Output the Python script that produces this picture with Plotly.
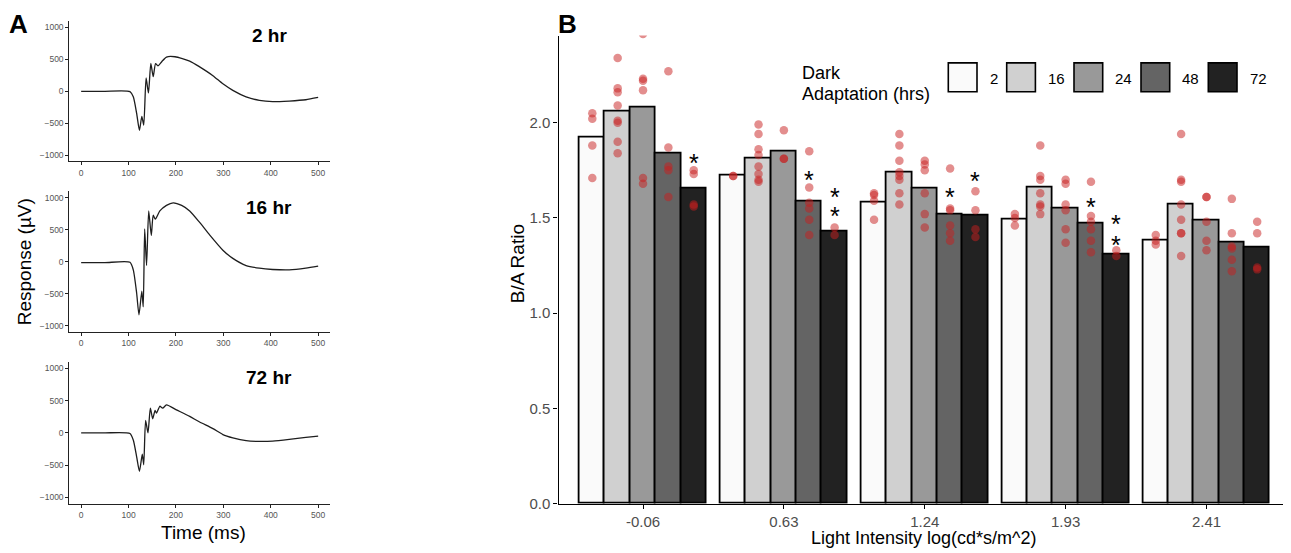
import plotly.graph_objects as go

REF_W, REF_H = 1291, 553
# the page shows the figure 8px in from the left edge, so the layout is
# measured in picture pixels and pulled back by that much horizontally
OFF_X = 8
W, H = REF_W - OFF_X, REF_H
FONT = "Liberation Sans, Arial, sans-serif"

# ---- panel A: ERG traces (time in ms, response in uV)
t_2hr = [0, 50, 103, 110, 117, 123, 128, 132, 137, 142, 147, 152, 157, 162,
         170, 180, 198, 229, 250, 278, 299, 320, 348, 376, 404, 439, 474, 500]
v_2hr = [0, 0, -5, -87, -342, -612, -393, -530, 209, -26, 439, 230, 434, 398,
         464, 536, 541, 474, 383, 245, 117, 15, -87, -143, -163, -153, -133, -97]

t_16hr = [0, 50, 103, 110, 117, 122, 128, 131, 134, 138, 142.5, 148, 152, 156.5,
          166, 180, 194, 212, 229, 250, 271, 299, 320, 348, 376, 404, 439, 474, 500]
v_16hr = [-15, -15, -10, -128, -485, -827, -459, -704, 510, -61, 791, 408, 725, 663,
          791, 878, 918, 878, 791, 612, 418, 179, 51, -61, -102, -122, -128, -102, -71]

t_72hr = [0, 50, 103, 110, 117, 123, 129, 132, 136, 141, 146, 151, 156, 159,
          166, 172, 180, 201, 229, 250, 278, 299, 320, 348, 376, 404, 439, 474, 500]
v_72hr = [0, 0, -10, -112, -367, -597, -332, -495, 194, 0, 383, 219, 347, 306,
          413, 383, 434, 357, 255, 168, 66, -26, -77, -122, -133, -128, -102, -71, -51]

trace_labels = ["2 hr", "16 hr", "72 hr"]

# ---- panel B: B/A ratio by light intensity and dark adaptation
intensity_labels = ["-0.06", "0.63", "1.24", "1.93", "2.41"]
hours = ["2", "16", "24", "48", "72"]
bar_colors = ["#fafafa", "#d0d0d0", "#999999", "#646464", "#222222"]

ratio_2 = [1.92, 1.72, 1.58, 1.49, 1.38]
ratio_16 = [2.06, 1.81, 1.74, 1.66, 1.57]
ratio_24 = [2.08, 1.85, 1.655, 1.55, 1.485]
ratio_48 = [1.84, 1.585, 1.52, 1.47, 1.37]
ratio_72 = [1.655, 1.43, 1.51, 1.31, 1.345]

dots_2 = [[2.05, 2.02, 1.88, 1.71], [1.72, 1.72], [1.63, 1.62, 1.59, 1.49],
          [1.52, 1.50, 1.46], [1.41, 1.38, 1.36]]
dots_16 = [[2.34, 2.18, 2.16, 2.09, 2.01, 2.00, 1.90, 1.84],
           [1.99, 1.94, 1.86, 1.83, 1.77, 1.73, 1.70, 1.69],
           [1.94, 1.88, 1.80, 1.74, 1.72, 1.70, 1.63, 1.57],
           [1.88, 1.72, 1.70, 1.63, 1.57, 1.56, 1.52],
           [1.94, 1.70, 1.69, 1.57, 1.49, 1.42, 1.42, 1.30]]
dots_24 = [[2.465, 2.23, 2.22, 2.17, 1.71, 1.68], [1.96, 1.81, 1.81],
           [1.80, 1.78, 1.75, 1.63, 1.52, 1.45], [1.70, 1.68, 1.57, 1.54, 1.44, 1.37],
           [1.61, 1.61, 1.48, 1.38, 1.33]]
dots_48 = [[2.27, 1.87, 1.77, 1.75, 1.61], [1.85, 1.66, 1.58, 1.55, 1.49, 1.41],
           [1.76, 1.55, 1.54, 1.46, 1.42, 1.38], [1.69, 1.51, 1.48, 1.44, 1.38, 1.32],
           [1.60, 1.42, 1.35, 1.34, 1.28, 1.22]]
dots_72 = [[1.75, 1.73, 1.57, 1.56], [1.45, 1.41], [1.64, 1.54, 1.44, 1.40],
           [1.33, 1.30], [1.48, 1.42, 1.24, 1.23]]

star_group = [0, 1, 1, 1, 2, 2, 3, 3, 3]
star_hour = ["72", "48", "72", "72", "48", "72", "48", "72", "72"]
star_y = [1.82, 1.73, 1.64, 1.54, 1.64, 1.725, 1.59, 1.50, 1.39]


def px(x, y):
    """pixel position in the reference picture -> paper coords"""
    return (x - OFF_X) / W, 1 - y / H


def span_x(a, b):
    return [px(a, 0)[0], min(px(b, 0)[0], 1.0)]


def span_y(top, bottom):
    return [px(0, bottom)[1], px(0, top)[1]]


fig = go.Figure()

# panel A
traces = [(t_2hr, v_2hr), (t_16hr, v_16hr), (t_72hr, v_72hr)]
for k, (t, v) in enumerate(traces, start=1):
    fig.add_trace(
        go.Scatter(
            x=t, y=v, mode="lines",
            line=dict(color="#1e1e1e", width=1.3, shape="spline", smoothing=0.6),
            xaxis=f"x{k}", yaxis=f"y{k}", showlegend=False, hoverinfo="skip",
        )
    )

# panel B bars
ratios = [ratio_2, ratio_16, ratio_24, ratio_48, ratio_72]
dots = [dots_2, dots_16, dots_24, dots_48, dots_72]
bar_w = 0.9 / len(hours)
offsets = {h: (j - 2) * bar_w for j, h in enumerate(hours)}

for h, vals, col in zip(hours, ratios, bar_colors):
    fig.add_trace(
        go.Bar(
            x=[i + offsets[h] for i in range(len(intensity_labels))],
            y=vals, width=bar_w, name=h,
            marker=dict(color=col, line=dict(color="black", width=1.8)),
            xaxis="x4", yaxis="y4", showlegend=False,
        )
    )

for h, pts in zip(hours, dots):
    xs, ys = [], []
    for i, grp in enumerate(pts):
        xs += [i + offsets[h]] * len(grp)
        ys += grp
    fig.add_trace(
        go.Scatter(
            x=xs, y=ys, mode="markers",
            marker=dict(size=8.5, color="rgba(200,30,30,0.5)", line=dict(width=0)),
            xaxis="x4", yaxis="y4", showlegend=False,
        )
    )

annotations = []
for g, h, y in zip(star_group, star_hour, star_y):
    annotations.append(dict(
        x=g + offsets[h], y=y, xref="x4", yref="y4", text="*", showarrow=False,
        font=dict(family=FONT, size=25, color="black"), yshift=-6,
    ))

# axes
a_dom_x = span_x(69.3, 330)
a_dom_y = [span_y(13.3, 155.7), span_y(185.8, 329), span_y(359.2, 503)]
small_axis = dict(
    showline=True, linecolor="#222", linewidth=1, ticks="outside", ticklen=3,
    tickcolor="#222", tickfont=dict(family=FONT, size=8.5, color="#555"),
    showgrid=False, zeroline=False,
)
layout_axes = {}
for k in range(1, 4):
    layout_axes[f"xaxis{k}"] = dict(
        small_axis, domain=a_dom_x, range=[-25, 525], anchor=f"y{k}",
        tickvals=[0, 100, 200, 300, 400, 500],
    )
    layout_axes[f"yaxis{k}"] = dict(
        small_axis, domain=a_dom_y[k - 1], range=[-1100, 1100], anchor=f"x{k}",
        tickvals=[-1000, -500, 0, 500, 1000],
    )

big_axis = dict(
    showline=True, linecolor="black", linewidth=1.3, ticks="outside", ticklen=4,
    tickcolor="black", tickfont=dict(family=FONT, size=15, color="#4d4d4d"),
    showgrid=False, zeroline=False,
)
layout_axes["xaxis4"] = dict(
    big_axis, domain=span_x(558.5, 1291), range=[-0.6, 4.6], anchor="y4",
    tickvals=list(range(len(intensity_labels))), ticktext=intensity_labels,
)
layout_axes["yaxis4"] = dict(
    big_axis, domain=span_y(28, 503), range=[0, 2.457], anchor="x4",
    tickvals=[0, 0.5, 1.0, 1.5, 2.0], tickformat=".1f",
)


# text labels
def text(x, y, s, size, bold=False, angle=0, xanchor="center"):
    px_x, px_y = px(x, y)
    annotations.append(dict(
        x=px_x, y=px_y, xref="paper", yref="paper", text=f"<b>{s}</b>" if bold else s,
        showarrow=False, textangle=angle, xanchor=xanchor, yanchor="middle",
        font=dict(family=FONT, size=size, color="black"),
    ))


text(18, 16, "A", 26, bold=True)
text(567, 16, "B", 26, bold=True)
for lbl, ypos in zip(trace_labels, [28, 202, 375]):
    text(269, ypos, lbl, 19, bold=True)
text(24, 258, "Response (µV)", 19, angle=-90)
text(204, 532, "Time (ms)", 19)
text(517, 260, "B/A Ratio", 19, angle=-90)
text(924, 538, "Light Intensity log(cd*s/m^2)", 18)
text(800, 66, "Dark", 18, xanchor="left")
text(800, 87, "Adaptation (hrs)", 18, xanchor="left")

# legend keys drawn by hand so they match the big ggplot squares
shapes = []
key_x = [948.3, 1006.7, 1074, 1141, 1208.3]
for h, col, kx in zip(hours, bar_colors, key_x):
    x0, y0 = px(kx, 85)
    x1, y1 = px(kx + 28.7, 55.7)
    shapes.append(dict(type="rect", xref="paper", yref="paper", x0=x0, y0=y0,
                       x1=x1, y1=y1, fillcolor=col, line=dict(color="black", width=1.6)))
    text(kx + 28.7 + 10.5, 71.5, h, 15, xanchor="left")

fig.update_layout(
    width=W, height=H,
    margin=dict(l=0, r=0, t=0, b=0),
    plot_bgcolor="white", paper_bgcolor="white",
    showlegend=False, annotations=annotations, shapes=shapes,
    bargap=0, **layout_axes,
)

fig.write_html("out.html")
